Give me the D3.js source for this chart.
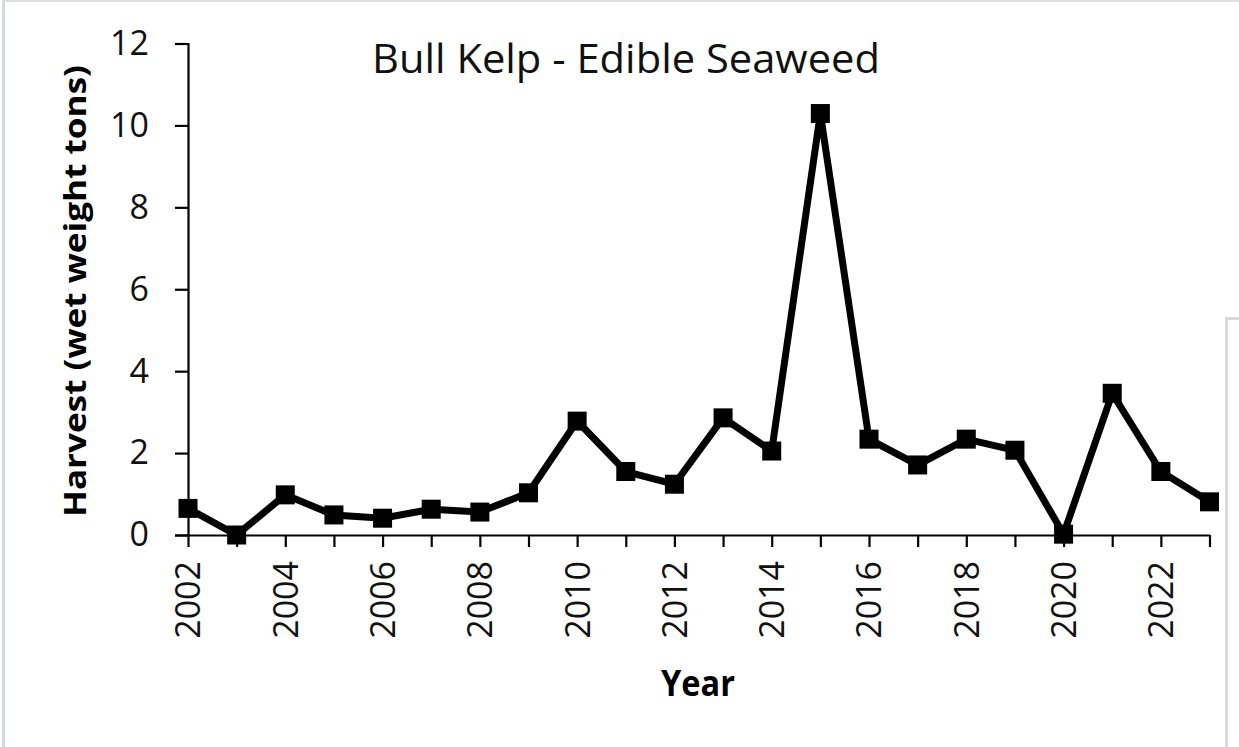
<!DOCTYPE html>
<html>
<head>
<meta charset="utf-8">
<script src="https://cdn.jsdelivr.net/npm/d3@7/dist/d3.min.js"></script>
<style>
  html, body { margin: 0; padding: 0; background: #fff; }
  svg { display: block; }
</style>
</head>
<body>
<svg id="chart" width="1239" height="747"></svg>
<script>
const years = [2002,2003,2004,2005,2006,2007,2008,2009,2010,2011,2012,2013,2014,2015,2016,2017,2018,2019,2020,2021,2022,2023];
const harvest = [0.65,0.0,0.98,0.49,0.41,0.63,0.56,1.03,2.78,1.55,1.24,2.86,2.05,10.29,2.34,1.71,2.34,2.07,0.02,3.46,1.55,0.81];
const yTicks = [0,2,4,6,8,10,12];
const xTickLabels = [2002,2004,2006,2008,2010,2012,2014,2016,2018,2020,2022];
const titleText = "Bull Kelp - Edible Seaweed";
const xTitle = "Year";
const yTitle = "Harvest (wet weight tons)";

const svg = d3.select("#chart");
const font = "'Open Sans', sans-serif";

// frame artifacts
svg.append("rect").attr("x",0).attr("y",0).attr("width",1239).attr("height",747).attr("fill","#fff");
svg.append("rect").attr("x",2).attr("y",0).attr("width",3).attr("height",747).attr("fill","#d6dade");
svg.append("rect").attr("x",2).attr("y",0).attr("width",1237).attr("height",2).attr("fill","#dcdfe2");
svg.append("path").attr("d","M1226.5,747V318.5H1239").attr("fill","none").attr("stroke","#d9d9d9").attr("stroke-width",3);

const x = d3.scaleLinear().domain([2002,2023]).range([188,1209.5]);
const y = d3.scaleLinear().domain([0,12]).range([535,43.5]);

// Y axis
const yAxis = svg.append("g").attr("transform","translate(188,0)")
  .call(d3.axisLeft(y).tickValues(yTicks).tickSize(13).tickPadding(26).tickFormat(d3.format("d")));
yAxis.select(".domain").attr("stroke","#000").attr("stroke-width",2.2);
yAxis.selectAll(".tick line").attr("stroke","#000").attr("stroke-width",2.2);
yAxis.selectAll(".tick text").attr("font-family",font).attr("font-size",34).attr("fill","#111");

// X axis
const xAxis = svg.append("g").attr("transform","translate(0,535)")
  .call(d3.axisBottom(x).tickValues(years).tickSize(12).tickSizeOuter(0)
    .tickFormat(d => xTickLabels.includes(d) ? String(d) : ""));
xAxis.select(".domain").attr("stroke","#000").attr("stroke-width",2.2);
xAxis.selectAll(".tick line").attr("stroke","#000").attr("stroke-width",2.2);
xAxis.selectAll(".tick text")
  .attr("font-family",font).attr("font-size",34).attr("fill","#111")
  .attr("transform","rotate(-90)")
  .attr("text-anchor","end")
  .attr("x",-26).attr("y",0).attr("dy","0.35em");

// line
const line = d3.line().x((d,i)=>x(years[i])).y(d=>y(d));
svg.append("path").datum(harvest).attr("d",line)
  .attr("fill","none").attr("stroke","#000").attr("stroke-width",7).attr("stroke-linejoin","miter");

// markers
const ms = 19;
svg.append("g").selectAll("rect").data(harvest).join("rect")
  .attr("x",(d,i)=>x(years[i])-ms/2).attr("y",d=>y(d)-ms/2)
  .attr("width",ms).attr("height",ms).attr("fill","#000");

// title
svg.append("text").attr("x",626).attr("y",73).attr("text-anchor","middle")
  .attr("font-family",font).attr("font-size",40).attr("fill","#111")
  .attr("textLength",508).attr("lengthAdjust","spacingAndGlyphs").text(titleText);

// axis titles
svg.append("text").attr("x",698).attr("y",696).attr("text-anchor","middle")
  .attr("font-family",font).attr("font-weight","bold").attr("font-size",36).attr("fill","#000")
  .attr("textLength",74).attr("lengthAdjust","spacingAndGlyphs").text(xTitle);
svg.append("text").attr("transform","translate(86,291) rotate(-90)").attr("text-anchor","middle")
  .attr("font-family",font).attr("font-weight","bold").attr("font-size",31).attr("fill","#000")
  .attr("textLength",452).attr("lengthAdjust","spacingAndGlyphs").text(yTitle);
</script>
</body>
</html>
